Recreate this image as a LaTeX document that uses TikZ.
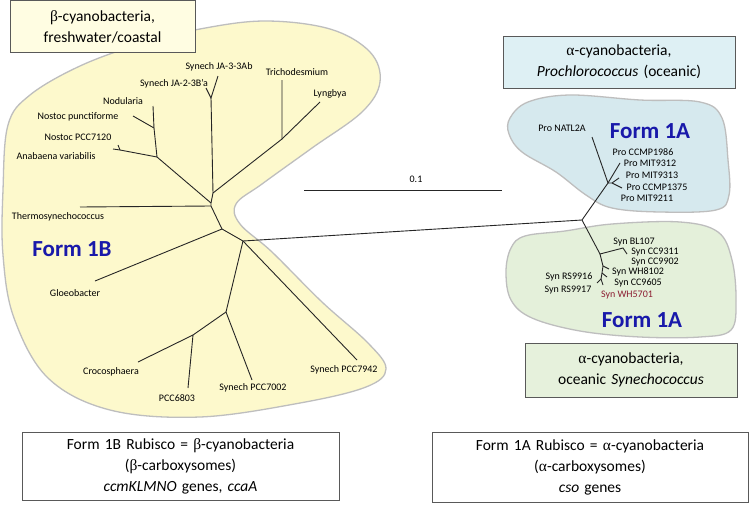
\documentclass[tikz,border=0pt]{standalone}
\usepackage{fontspec}
\setmainfont{Carlito}
\newfontfamily\grk{Liberation Serif}
\definecolor{yfill}{RGB}{253,249,204}
\definecolor{ybox}{RGB}{255,253,226}
\definecolor{bfill}{RGB}{214,233,238}
\definecolor{bbox}{RGB}{222,240,244}
\definecolor{gfill}{RGB}{228,240,218}
\definecolor{gbox}{RGB}{230,241,220}
\definecolor{blobline}{RGB}{190,190,190}
\definecolor{formblue}{RGB}{25,25,170}
\definecolor{synred}{RGB}{140,30,50}
\begin{document}
\begin{tikzpicture}[x=1pt,y=-1pt,
  br/.style={line width=0.9pt, draw=black!85},
  leaf/.style={font=\fontsize{10}{11}\selectfont, inner sep=0pt},
  blob/.style={draw=blobline, line width=1.3pt},
  box/.style={draw=black!65, line width=0.8pt, align=center, font=\fontsize{15.5}{21}\selectfont, inner sep=0pt},
  formlab/.style={font=\fontsize{23}{25}\selectfont\bfseries, text=formblue, inner sep=0pt}
]
\useasboundingbox[fill=white] (0,0) rectangle (750,506);

% blobs
\filldraw[blob, fill=yfill] plot[smooth cycle, tension=0.6] coordinates {
 (3,190) (8,125) (30,95) (80,66) (140,44) (200,29) (265,21) (330,29) (370,52) (380,82)
 (362,112) (312,148) (262,184) (236,204) (240,224) (272,252) (322,302) (368,343)
 (386,369) (366,387) (300,403) (200,417) (110,410) (48,378) (14,318) (3,255)};
\filldraw[blob, fill=bfill] plot[smooth cycle, tension=0.6] coordinates {
 (510,118) (528,102) (570,95) (640,100) (700,102) (722,118) (728,160) (729,195)
 (716,210) (660,212) (612,208) (586,195) (556,172) (522,152) (509,134)};
\filldraw[blob, fill=gfill] plot[smooth cycle, tension=0.6] coordinates {
 (511,248) (525,236) (565,231) (612,224) (680,222) (718,232) (732,260) (736,300)
 (731,330) (700,337) (640,337) (580,331) (532,318) (511,300) (506,272)};

% boxes
\node[box, fill=ybox, text width=185, minimum height=52] (bl) at (102.5,26.5)
 {{\grk β}-cyanobacteria,\\freshwater/coastal};
\node[box, fill=bbox, text width=232, minimum height=52] (pro) at (619,62)
 {{\grk α}-cyanobacteria,\\\textit{Prochlorococcus} (oceanic)};
\node[box, fill=gbox, text width=212, minimum height=54] (syn) at (631,370)
 {{\grk α}-cyanobacteria,\\oceanic \textit{Synechococcus}};
\node[box, fill=white, text width=317, minimum height=68] (f1b) at (180.5,466)
 {Form 1B Rubisco = {\grk β}-cyanobacteria\\({\grk β}-carboxysomes)\\\textit{ccmKLMNO} genes, \textit{ccaA}};
\node[box, fill=white, text width=316, minimum height=70] (f1a) at (590,467.5)
 {Form 1A Rubisco = {\grk α}-cyanobacteria\\({\grk α}-carboxysomes)\\\textit{cso} genes};

% form labels
\node[formlab] (form1b) at (72,249) {Form 1B};
\node[formlab] (form1atop) at (650,131) {Form 1A};
\node[formlab] (form1abot) at (642,320) {Form 1A};

% scale bar
\coordinate (sb1) at (304,190);
\coordinate (sb2) at (502,190);
\draw[br] (sb1) -- (sb2);
\node[leaf] (sbl) at (416,179) {0.1};

% left tree coordinates
\coordinate (ja3) at (218,76);
\coordinate (ja2) at (206,88);
\coordinate (nja) at (211,98);
\coordinate (na) at (213,193);
\coordinate (nb) at (211,203);
\coordinate (nt) at (211,206);
\coordinate (ntl) at (282,139);
\coordinate (tri) at (282,80);
\coordinate (lyn) at (320,102);
\coordinate (nn) at (157,157);
\coordinate (nod) at (153,106);
\coordinate (np) at (154,128);
\coordinate (npu) at (133,116);
\coordinate (na2) at (120,150);
\coordinate (ana) at (113,149);
\coordinate (pcc71) at (118,145);
\coordinate (the) at (80,207);
\coordinate (ng) at (222,229);
\coordinate (glo) at (95,281);
\coordinate (nl) at (243,241);
\coordinate (p7942) at (357,360);
\coordinate (nc) at (226,312);
\coordinate (p7002) at (252,380);
\coordinate (nd) at (193,335);
\coordinate (cro) at (138,362);
\coordinate (p6803) at (188,388);

\draw[br] (ja3) -- (nja) -- (ja2);
\draw[br] (nja) -- (na) -- (nb) -- (nt) -- (ng) -- (nl);
\draw[br] (na) -- (ntl) -- (tri);
\draw[br] (ntl) -- (lyn);
\draw[br] (nod) -- (np) -- (nn) -- (nb);
\draw[br] (npu) -- (np);
\draw[br] (ana) -- (na2) -- (nn);
\draw[br] (pcc71) -- (na2);
\draw[br] (the) -- (nt);
\draw[br] (glo) -- (ng);
\draw[br] (nl) -- (p7942);
\draw[br] (nl) -- (nc) -- (p7002);
\draw[br] (nc) -- (nd) -- (cro);
\draw[br] (nd) -- (p6803);

% right tree
\coordinate (nr) at (582,220);
\coordinate (npr) at (608,183);
\coordinate (natl) at (592,137);
\coordinate (c1986) at (620,163);
\coordinate (npr2) at (612,183);
\coordinate (m9313) at (619,178);
\coordinate (c1375) at (622,188);
\coordinate (ns) at (600,254);
\coordinate (nbl) at (623,248);
\coordinate (bl107) at (627,254);
\coordinate (s1) at (603,266);
\coordinate (s1t) at (609,269);
\coordinate (s2) at (602,273);
\coordinate (s2t) at (607,277);
\coordinate (s3) at (601,279);
\coordinate (s3t) at (597,283);
\coordinate (s3b) at (603,285);

\draw[br] (nl) -- (nr);
\draw[br] (nr) -- (npr) -- (natl);
\draw[br] (npr) -- (c1986);
\draw[br] (npr) -- (npr2) -- (m9313);
\draw[br] (npr2) -- (c1375);
\draw[br] (nr) -- (ns) -- (nbl) -- (bl107);
\draw[br] (ns) -- (s1) -- (s2) -- (s3) -- (s3b);
\draw[br] (s1) -- (s1t);
\draw[br] (s2) -- (s2t);
\draw[br] (s3) -- (s3t);

% left labels
\node[leaf] (lja3) at (219,67) {Synech JA-3-3Ab};
\node[leaf] (lja2) at (174,84) {Synech JA-2-3B'a};
\node[leaf] (lnod) at (123,101) {Nodularia};
\node[leaf] (lnpu) at (78,117) {Nostoc punctiforme};
\node[leaf] (lpcc) at (78,137) {Nostoc PCC7120};
\node[leaf] (lana) at (56,156) {Anabaena variabilis};
\node[leaf] (ltri) at (297,72) {Trichodesmium};
\node[leaf] (llyn) at (330,94) {Lyngbya};
\node[leaf] (lthe) at (58,217) {Thermosynechococcus};
\node[leaf] (lglo) at (75,293) {Gloeobacter};
\node[leaf] (lcro) at (111,372) {Crocosphaera};
\node[leaf] (l6803) at (177,398) {PCC6803};
\node[leaf] (l7002) at (253,388) {Synech PCC7002};
\node[leaf] (l7942) at (344,370) {Synech PCC7942};

% right labels
\node[leaf] (lnatl) at (562,128) {Pro NATL2A};
\node[leaf] (l1986) at (643,152) {Pro CCMP1986};
\node[leaf] (l9312) at (650,163) {Pro MIT9312};
\node[leaf] (l9313) at (652,175) {Pro MIT9313};
\node[leaf] (l1375) at (657,187) {Pro CCMP1375};
\node[leaf] (l9211) at (647,198) {Pro MIT9211};
\node[leaf] (lbl) at (634,242) {Syn BL107};
\node[leaf] (l9311) at (655,252) {Syn CC9311};
\node[leaf] (l9902) at (655,262) {Syn CC9902};
\node[leaf] (l8102) at (638,272) {Syn WH8102};
\node[leaf] (l9605) at (638,283) {Syn CC9605};
\node[leaf, text=synred] (l5701) at (627,295) {Syn WH5701};
\node[leaf] (l9916) at (569,277) {Syn RS9916};
\node[leaf] (l9917) at (568,290) {Syn RS9917};
\end{tikzpicture}
\end{document}
